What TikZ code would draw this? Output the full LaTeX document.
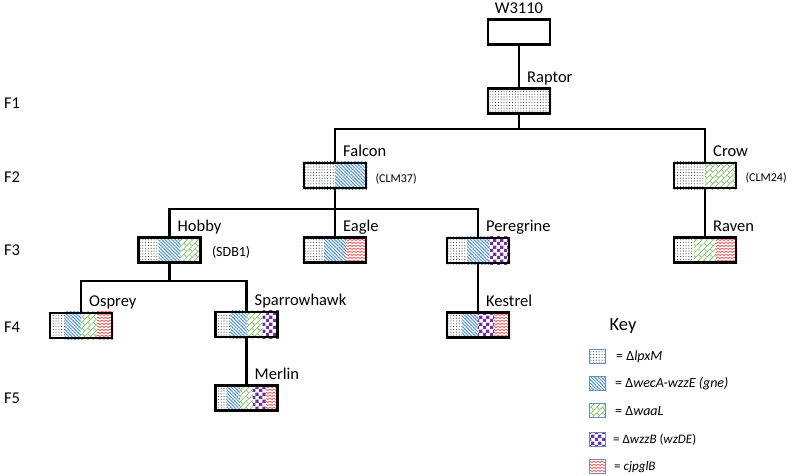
\documentclass[tikz,border=0pt]{standalone}
\usepackage{fontspec}
\setmainfont{Carlito}
\usetikzlibrary{patterns, patterns.meta, backgrounds, calc}
\definecolor{hatchblue}{RGB}{80,145,210}
\definecolor{brickgreen}{RGB}{112,190,80}
\definecolor{checkpurple}{RGB}{112,48,160}
\definecolor{wavered}{RGB}{255,70,70}
\definecolor{swatchedge}{RGB}{110,140,185}
\pgfdeclarepatternformonly{purplechecks}{\pgfpointorigin}{\pgfqpoint{7pt}{7pt}}{\pgfqpoint{7pt}{7pt}}{%
  \pgfpathrectangle{\pgfpointorigin}{\pgfqpoint{3.5pt}{3.5pt}}%
  \pgfpathrectangle{\pgfqpoint{3.5pt}{3.5pt}}{\pgfqpoint{3.5pt}{3.5pt}}%
  \pgfusepath{fill}}
\pgfdeclarepatternformonly{redwaves}{\pgfqpoint{-0.5pt}{-0.5pt}}{\pgfqpoint{4.5pt}{3.5pt}}{\pgfqpoint{4pt}{3pt}}{%
  \pgfsetlinewidth{0.6pt}%
  \pgfpathmoveto{\pgfqpoint{-0.5pt}{0.125pt}}%
  \pgfpathlineto{\pgfqpoint{2pt}{2pt}}%
  \pgfpathlineto{\pgfqpoint{4.5pt}{0.125pt}}%
  \pgfusepath{stroke}}
\pgfdeclarepattern{
  name=greenbricks,
  type=uncolored,
  bottom left={\pgfpoint{-.5pt}{-.5pt}},
  top right={\pgfpoint{8.5pt}{8.5pt}},
  tile size={\pgfpoint{8pt}{8pt}},
  tile transformation={\pgftransformrotate{45}},
  code={
    \pgfsetlinewidth{0.5pt}
    \pgfpathmoveto{\pgfpoint{-.5pt}{2pt}}\pgfpathlineto{\pgfpoint{8.5pt}{2pt}}
    \pgfpathmoveto{\pgfpoint{-.5pt}{6pt}}\pgfpathlineto{\pgfpoint{8.5pt}{6pt}}
    \pgfpathmoveto{\pgfpoint{2pt}{2pt}}\pgfpathlineto{\pgfpoint{2pt}{6pt}}
    \pgfpathmoveto{\pgfpoint{6pt}{6pt}}\pgfpathlineto{\pgfpoint{6pt}{8.5pt}}
    \pgfpathmoveto{\pgfpoint{6pt}{-.5pt}}\pgfpathlineto{\pgfpoint{6pt}{2pt}}
    \pgfusepath{stroke}
  }
}
\newcommand{\strainfill}[3]{%
  \begin{scope}[on background layer]
    \foreach \pat [count=\i] in {#3}
      \fill[\pat] ($(#1.south west)!{(\i-1)/#2}!(#1.south east)$) rectangle ($(#1.north west)!{\i/#2}!(#1.north east)$);
  \end{scope}}

\begin{document}
\begin{tikzpicture}[x=1pt,y=-1pt,
    strain/.style={draw, rectangle, line width=2.6pt, minimum width=62pt, minimum height=25pt, inner sep=0pt},
    link/.style={line width=2.2pt},
    strainlbl/.style={font=\fontsize{16.5}{18}\selectfont, inner sep=0pt, anchor=base west},
    note/.style={font=\fontsize{12}{14}\selectfont, inner sep=0pt, anchor=west},
    gen/.style={font=\fontsize{16.5}{18}\selectfont, inner sep=0pt},
    swatch/.style={draw=swatchedge, line width=1pt, minimum width=16pt, minimum height=14pt, inner sep=0pt},
    keytext/.style={font=\fontsize{14}{16}\selectfont, inner sep=0pt, anchor=west},
    pdots/.style={pattern={Dots[distance=2.8pt,radius=0.55pt]}, pattern color=black!75},
    pblue/.style={pattern={Lines[angle=-45,distance=2.4pt,line width=1pt]}, pattern color=hatchblue},
    pgreen/.style={pattern=greenbricks, pattern color=brickgreen},
    ppurple/.style={pattern=purplechecks, pattern color=checkpurple},
    pred/.style={pattern=redwaves, pattern color=wavered}]
    \useasboundingbox (0,0) rectangle (797,475);
    \node[gen] (f1) at (12,103) {F1};
    \node[gen] (f2) at (12,177) {F2};
    \node[gen] (f3) at (12,250) {F3};
    \node[gen] (f4) at (12,327) {F4};
    \node[gen] (f5) at (12,398) {F5};
    \node[strain] (w3110) at (519,32) {};
    \node[strain] (raptor) at (519,101) {};
    \node[strain] (falcon) at (335,175.5) {};
    \node[strain] (crow) at (705,175.5) {};
    \node[strain] (hobby) at (169.5,250) {};
    \node[strain] (eagle) at (335,250) {};
    \node[strain] (peregrine) at (478,250.5) {};
    \node[strain] (raven) at (705,250) {};
    \node[strain] (osprey) at (81,325.5) {};
    \node[strain] (sparrowhawk) at (246.5,324.5) {};
    \node[strain] (kestrel) at (478,325) {};
    \node[strain] (merlin) at (246.5,398) {};
    \strainfill{raptor}{1}{pdots}
    \strainfill{falcon}{2}{pdots,pblue}
    \strainfill{crow}{2}{pdots,pgreen}
    \strainfill{hobby}{3}{pdots,pblue,pgreen}
    \strainfill{eagle}{3}{pdots,pblue,pred}
    \strainfill{peregrine}{3}{pdots,pblue,ppurple}
    \strainfill{raven}{3}{pdots,pgreen,pred}
    \strainfill{osprey}{4}{pdots,pblue,pgreen,pred}
    \strainfill{sparrowhawk}{4}{pdots,pblue,pgreen,ppurple}
    \strainfill{kestrel}{4}{pdots,pblue,ppurple,pred}
    \strainfill{merlin}{5}{pdots,pblue,pgreen,ppurple,pred}
    \node[strainlbl, anchor=base] (w3110lbl) at ([yshift=5pt]w3110.north) {W3110};
    \node[strainlbl] (raptorlbl) at ([xshift=8pt,yshift=5pt]raptor.north) {Raptor};
    \node[strainlbl] (falconlbl) at ([xshift=8pt,yshift=5pt]falcon.north) {Falcon};
    \node[strainlbl] (crowlbl) at ([xshift=8pt,yshift=5pt]crow.north) {Crow};
    \node[strainlbl] (hobbylbl) at ([xshift=8pt,yshift=5pt]hobby.north) {Hobby};
    \node[strainlbl] (eaglelbl) at ([xshift=8pt,yshift=5pt]eagle.north) {Eagle};
    \node[strainlbl] (peregrinelbl) at ([xshift=8pt,yshift=5pt]peregrine.north) {Peregrine};
    \node[strainlbl] (ravenlbl) at ([xshift=8pt,yshift=5pt]raven.north) {Raven};
    \node[strainlbl] (ospreylbl) at ([xshift=8pt,yshift=5pt]osprey.north) {Osprey};
    \node[strainlbl] (sparrowhawklbl) at ([xshift=8pt,yshift=5pt]sparrowhawk.north) {Sparrowhawk};
    \node[strainlbl] (kestrellbl) at ([xshift=8pt,yshift=5pt]kestrel.north) {Kestrel};
    \node[strainlbl] (merlinlbl) at ([xshift=8pt,yshift=5pt]merlin.north) {Merlin};
    \node[note] (clm37) at ([xshift=8pt,yshift=-3pt]falcon.east) {(CLM37)};
    \node[note] (clm24) at ([xshift=8pt,yshift=-2pt]crow.east) {(CLM24)};
    \node[note, font=\fontsize{14}{16}\selectfont] (sdb1) at ([xshift=10pt,yshift=-2pt]hobby.east) {(SDB1)};
    \draw[link] (w3110) -- (raptor);
    \draw[link] (raptor.south) -- ++(0,14.5) coordinate (j1);
    \draw[link] (falcon.north) |- (j1) -| (crow.north);
    \draw[link] (falcon.south) -- (eagle.north);
    \path (falcon.south) ++(0,19.5) coordinate (j2);
    \draw[link] (hobby.north) |- (j2) -| (peregrine.north);
    \draw[link] (crow) -- (raven);
    \draw[link] (hobby.south) -- ++(0,17.5) coordinate (j3);
    \draw[link] (osprey.north) |- (j3) -| (sparrowhawk.north);
    \draw[link] (sparrowhawk) -- (merlin);
    \draw[link] (peregrine) -- (kestrel);
    \node[font=\fontsize{18.5}{20}\selectfont, inner sep=0pt] (keyhead) at (623,326) {Key};
    \node[swatch, pdots] (sw1) at (597.5,356.5) {};
    \node[swatch, pblue] (sw2) at (597.5,383.5) {};
    \node[swatch, pgreen] (sw3) at (597.5,410.5) {};
    \node[swatch, ppurple] (sw4) at (597.5,439.5) {};
    \node[swatch, pred] (sw5) at (597.5,466.5) {};
    \node[keytext] (kt1) at (616,357) {= Δ\textit{lpxM}};
    \node[keytext] (kt2) at (615,384) {= Δ\textit{wecA-wzzE (gne)}};
    \node[keytext] (kt3) at (615,411) {= Δ\textit{waaL}};
    \node[keytext, font=\fontsize{13}{15}\selectfont] (kt4) at (613,440) {= Δ\textit{wzzB} (\textit{wzDE})};
    \node[keytext, font=\fontsize{13}{15}\selectfont] (kt5) at (614,467) {= \textit{cjpglB}};
\end{tikzpicture}
\end{document}
